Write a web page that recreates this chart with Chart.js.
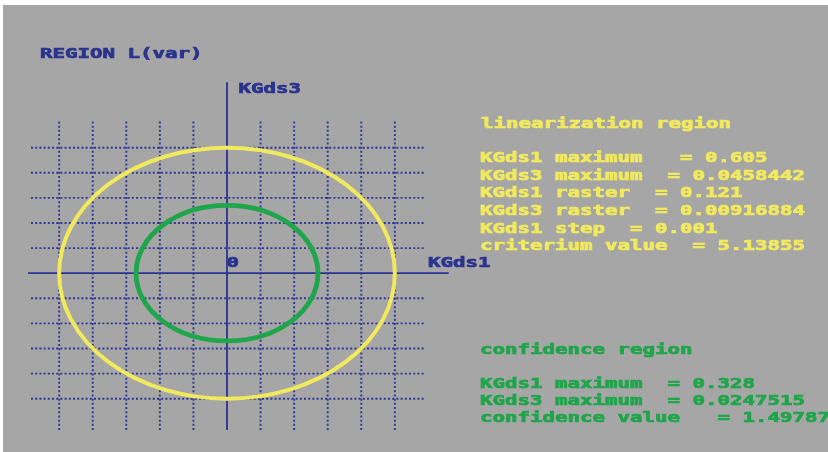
<!DOCTYPE html>
<html>
<head>
<meta charset="utf-8">
<script src="https://cdn.jsdelivr.net/npm/chart.js@4/dist/chart.umd.min.js"></script>
<style>
  html, body { margin: 0; padding: 0; background: #ffffff; }
  #wrap { width: 828px; height: 452px; }
</style>
</head>
<body>
<div id="wrap"><canvas id="c" width="828" height="452"></canvas></div>
<script>
// Raster lines of the KGds1 / KGds3 plane (multiples of the raster sizes)
const kgds1Grid = [-0.605, -0.484, -0.363, -0.242, -0.121, 0.121, 0.242, 0.363, 0.484, 0.605];
const kgds3Grid = [-0.0458442, -0.0366754, -0.0275065, -0.0183377, -0.0091688,
                   0.0091688, 0.0183377, 0.0275065, 0.0366754, 0.0458442];

// Region half-widths: [KGds1 maximum, KGds3 maximum]
const linearizationRegion = [0.605, 0.0458442];
const confidenceRegion = [0.328, 0.0247515];

// Axis extents
const kgds1AxisSpan = [-0.717, 0.799];
const kgds3AxisSpan = [-0.0573, 0.0698];

// Texts
const titleText = 'REGION L(var)';
const kgds1Label = 'KGds1';
const kgds3Label = 'KGds3';
const originLabel = '0';
const linearizationTitle = 'linearization region';
const linearizationLines = [
  'KGds1 maximum   = 0.605',
  'KGds3 maximum  = 0.0458442',
  'KGds1 raster  = 0.121',
  'KGds3 raster  = 0.00916884',
  'KGds1 step  = 0.001',
  'criterium value  = 5.13855'
];
const confidenceTitle = 'confidence region';
const confidenceLines = [
  'KGds1 maximum  = 0.328',
  'KGds3 maximum  = 0.0247515',
  'confidence value   = 1.49787'
];

const BG = '#a6a6a6';
const BLUE = '#2a338e';
const GRID = '#2f3796';
const YELLOW = '#f2ea5e';
const GREEN = '#1fa54a';
const FONT = 'bold 14px "DejaVu Sans Mono", monospace';
const CELL = 12.5; // character cell width

const datasets = [];
kgds1Grid.forEach(v => datasets.push({
  type: 'line', data: [{x: v, y: -0.0573}, {x: v, y: 0.0560}],
  borderColor: GRID, borderWidth: 1.9, borderDash: [2, 2.2], pointRadius: 0, clip: false
}));
kgds3Grid.forEach(v => datasets.push({
  type: 'line', data: [{x: -0.7065, y: v}, {x: 0.7137, y: v}],
  borderColor: GRID, borderWidth: 1.9, borderDash: [2, 2.2], pointRadius: 0, clip: false
}));
datasets.push({
  type: 'line', data: [{x: kgds1AxisSpan[0], y: 0}, {x: kgds1AxisSpan[1], y: 0}],
  borderColor: BLUE, borderWidth: 1.8, pointRadius: 0, clip: false
});
datasets.push({
  type: 'line', data: [{x: 0, y: kgds3AxisSpan[0]}, {x: 0, y: kgds3AxisSpan[1]}],
  borderColor: BLUE, borderWidth: 1.8, pointRadius: 0, clip: false
});

const background = {
  id: 'background',
  beforeDraw(chart) {
    const ctx = chart.ctx;
    ctx.save();
    ctx.fillStyle = BG;
    ctx.fillRect(3, 5, chart.width - 3, chart.height - 5);
    ctx.restore();
  }
};

const regions = {
  id: 'regions',
  afterDatasetsDraw(chart) {
    const ctx = chart.ctx;
    const sx = chart.scales.x, sy = chart.scales.y;
    const cx = sx.getPixelForValue(0), cy = sy.getPixelForValue(0);
    const draw = (r, color, w) => {
      const rx = sx.getPixelForValue(r[0]) - cx;
      const ry = cy - sy.getPixelForValue(r[1]);
      ctx.save();
      ctx.strokeStyle = color;
      ctx.lineWidth = w;
      ctx.beginPath();
      ctx.ellipse(cx, cy, rx, ry, 0, 0, Math.PI * 2);
      ctx.stroke();
      ctx.restore();
    };
    draw(linearizationRegion, YELLOW, 4);
    draw(confidenceRegion, GREEN, 4.8);
  }
};

const texts = {
  id: 'texts',
  afterDraw(chart) {
    const ctx = chart.ctx;
    ctx.save();
    ctx.font = FONT;
    ctx.textBaseline = 'alphabetic';
    ctx.textAlign = 'left';
    const k = CELL / ctx.measureText('M').width;
    const put = (s, x, y, color) => {
      ctx.save();
      ctx.fillStyle = color;
      ctx.strokeStyle = color;
      ctx.lineWidth = 0.7;
      ctx.translate(x, y);
      ctx.scale(k, 1);
      ctx.fillText(s, 0, 0);
      ctx.strokeText(s, 0, 0);
      ctx.restore();
    };
    put(titleText, 40, 58, BLUE);
    put(kgds3Label, 238.5, 93, BLUE);
    put(originLabel, 226.5, 267, BLUE);
    put(kgds1Label, 428, 267, BLUE);
    put(linearizationTitle, 481, 127.5, YELLOW);
    linearizationLines.forEach((s, i) => put(s, 480, 162.3 + i * 17.55, YELLOW));
    put(confidenceTitle, 480, 354, GREEN);
    confidenceLines.forEach((s, i) => put(s, 480, 387.7 + i * 17.3, GREEN));
    ctx.restore();
  }
};

new Chart(document.getElementById('c'), {
  type: 'scatter',
  data: { datasets },
  options: {
    responsive: false,
    animation: false,
    events: [],
    layout: { padding: { left: 31, right: 403, top: 120, bottom: 22 } },
    plugins: { legend: { display: false }, tooltip: { enabled: false }, title: { display: false } },
    scales: {
      x: { type: 'linear', display: false, min: -0.7065, max: 0.7137 },
      y: { type: 'linear', display: false, min: -0.05728, max: 0.05597 }
    }
  },
  plugins: [background, regions, texts]
});
</script>
</body>
</html>
